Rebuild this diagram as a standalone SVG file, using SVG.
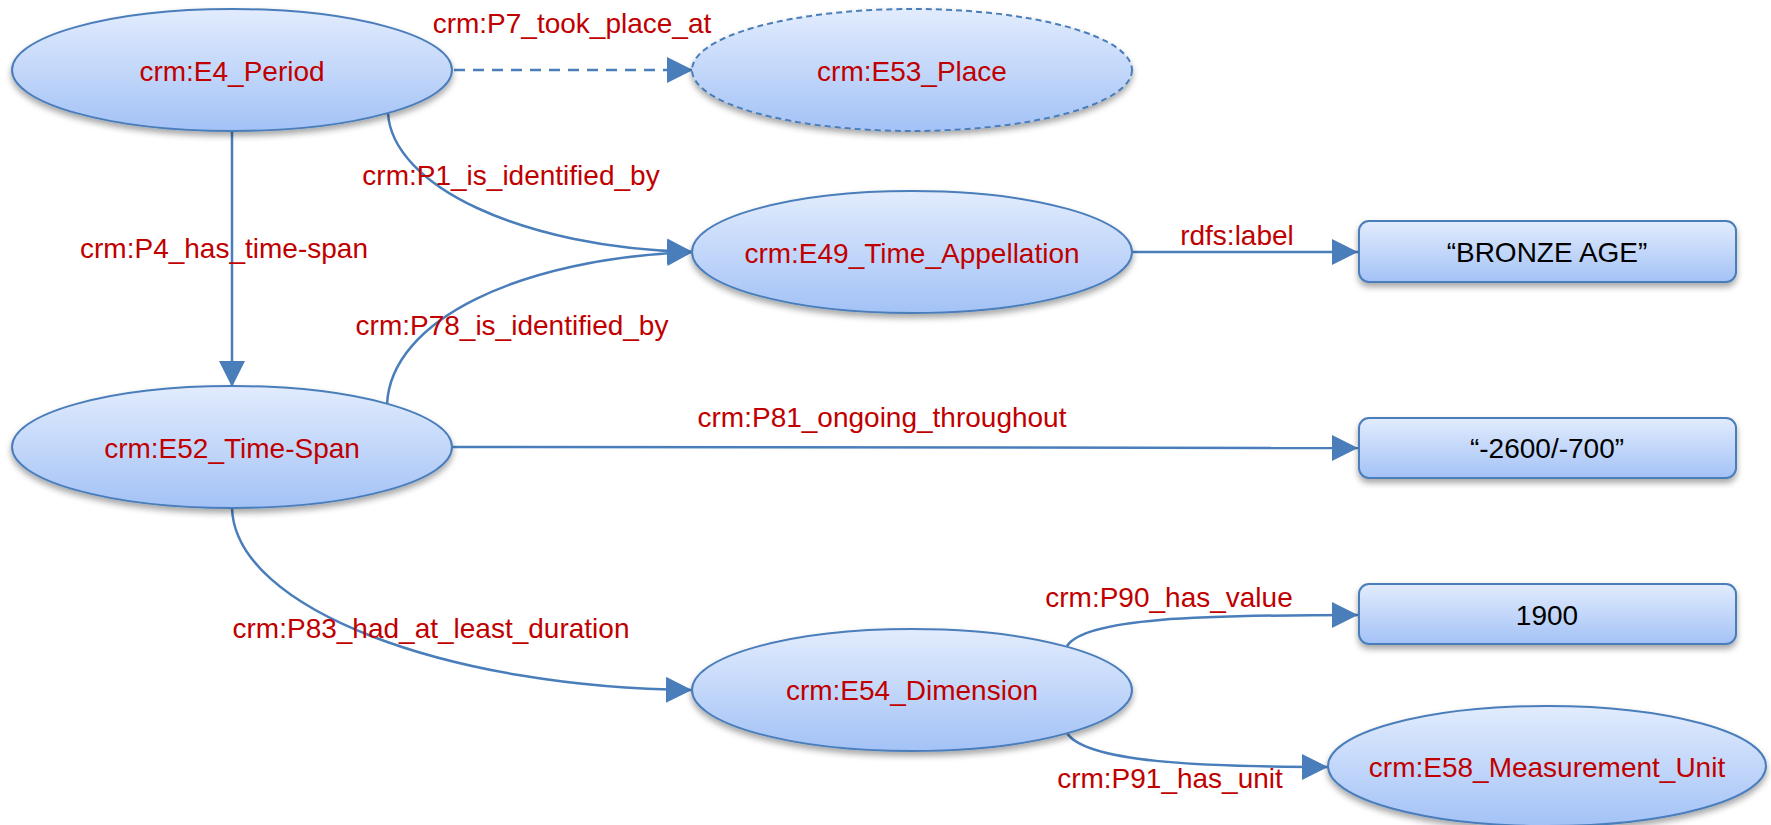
<svg xmlns="http://www.w3.org/2000/svg" width="1771" height="825" viewBox="0 0 1771 825">
<defs>
<linearGradient id="g" x1="0" y1="0" x2="0" y2="1">
<stop offset="0" stop-color="#e2ecfd"/>
<stop offset="1" stop-color="#a3c2f6"/>
</linearGradient>
<filter id="sh" x="-10%" y="-20%" width="120%" height="150%">
<feDropShadow dx="0" dy="4" stdDeviation="3" flood-color="#000" flood-opacity="0.35"/>
</filter>
<marker id="arr" viewBox="0 0 26 26" markerWidth="26" markerHeight="26" refX="26" refY="13" orient="auto" markerUnits="userSpaceOnUse">
<path d="M0,0 L26,13 L0,26 z" fill="#4a7ebb"/>
</marker>
<style>
.node{fill:url(#g);stroke:#4a7ebb;stroke-width:2;filter:url(#sh)}
.dash{stroke-dasharray:6,4}
.t{font-family:"Liberation Sans",Arial,sans-serif;font-size:28px;fill:#c00000;text-anchor:middle}
.b{fill:#000}
.e{fill:none;stroke:#4a7ebb;stroke-width:2.5;marker-end:url(#arr)}
</style>
</defs>
<rect width="1771" height="825" fill="#fff"/>
<g id="connectors">
<path class="e" d="M232,131 L232,387"/>
<path class="e" d="M454,70 L693,70" stroke-dasharray="11,8"/>
<path class="e" d="M388,113 C392,185 520,248 693,252"/>
<path class="e" d="M387,405 C390,320 520,258 693,252"/>
<path class="e" d="M1132,252 L1358,252"/>
<path class="e" d="M452,447 L1358,448"/>
<path class="e" d="M232,508 C235,610 450,688 692,690"/>
<path class="e" d="M1067,646 C1085,618 1200,615 1358,615"/>
<path class="e" d="M1067,733 C1085,762 1200,767 1328,767"/>
</g>
<g id="edge-labels">
<text class="t" x="572" y="33">crm:P7_took_place_at</text>
<text class="t" x="511" y="185">crm:P1_is_identified_by</text>
<text class="t" x="224" y="258">crm:P4_has_time-span</text>
<text class="t" x="512" y="335">crm:P78_is_identified_by</text>
<text class="t" x="1237" y="245">rdfs:label</text>
<text class="t" x="882" y="427">crm:P81_ongoing_throughout</text>
<text class="t" x="431" y="638">crm:P83_had_at_least_duration</text>
<text class="t" x="1169" y="607">crm:P90_has_value</text>
<text class="t" x="1170" y="788">crm:P91_has_unit</text>
</g>
<g id="E4">
<ellipse class="node" cx="232" cy="70" rx="220" ry="61"/>
<text class="t" x="232" y="81">crm:E4_Period</text>
</g>
<g id="E53">
<ellipse class="node dash" cx="912" cy="70" rx="220" ry="61"/>
<text class="t" x="912" y="81">crm:E53_Place</text>
</g>
<g id="E49">
<ellipse class="node" cx="912" cy="252" rx="220" ry="61"/>
<text class="t" x="912" y="263">crm:E49_Time_Appellation</text>
</g>
<g id="bronze">
<rect class="node" x="1359" y="221" width="377" height="61" rx="10"/>
<text class="t b" x="1547" y="262">“BRONZE AGE”</text>
</g>
<g id="E52">
<ellipse class="node" cx="232" cy="447" rx="220" ry="61"/>
<text class="t" x="232" y="458">crm:E52_Time-Span</text>
</g>
<g id="span">
<rect class="node" x="1359" y="418" width="377" height="60" rx="10"/>
<text class="t b" x="1547" y="458">“-2600/-700”</text>
</g>
<g id="E54">
<ellipse class="node" cx="912" cy="690" rx="220" ry="61"/>
<text class="t" x="912" y="700">crm:E54_Dimension</text>
</g>
<g id="v1900">
<rect class="node" x="1359" y="584" width="377" height="60" rx="10"/>
<text class="t b" x="1547" y="625">1900</text>
</g>
<g id="E58">
<ellipse class="node" cx="1547" cy="766" rx="219" ry="60"/>
<text class="t" x="1547" y="777">crm:E58_Measurement_Unit</text>
</g>
</svg>
